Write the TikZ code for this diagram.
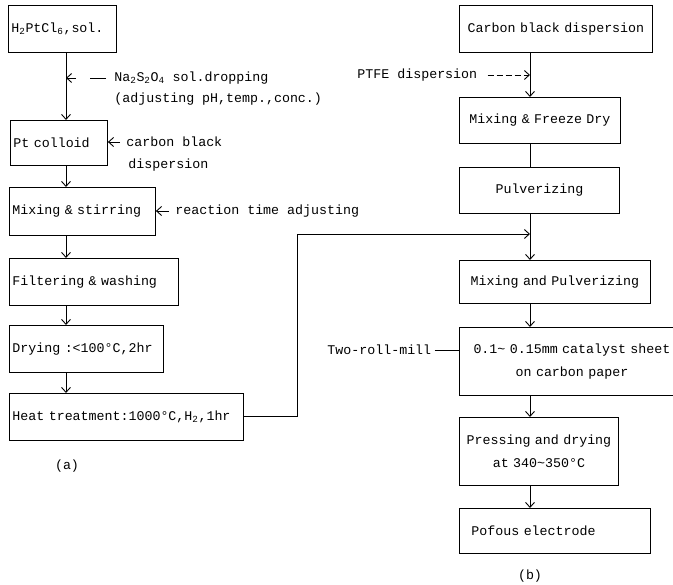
\documentclass[tikz,border=0pt]{standalone}
\usepackage{fontspec}
\setmainfont{Liberation Mono}
\usepackage{tikz}
\usetikzlibrary{calc, arrows.meta}

\tikzset{
  stepbox/.style={draw, anchor=north west, inner xsep=3pt, inner ysep=0pt, align=left},
  sidetext/.style={anchor=west, inner sep=0pt},
  >={Straight Barb[length=5pt,width=9pt]}
}

\begin{document}
\begin{tikzpicture}[x=1pt, y=-1pt, line width=0.9pt, font=\fontsize{13.3}{23}\selectfont]
      \useasboundingbox (0,0) rectangle (673,585);

      \coordinate (axa) at (66, 0);
      \coordinate (axb) at (530, 0);
      \coordinate (bend) at (297, 234);
      \coordinate (join) at (530, 234);

      \node[stepbox, text width=102pt, minimum height=47pt] (h2) at (8,5) {H\textsubscript{2}PtCl\textsubscript{6},sol.};
      \node[stepbox, text width=91pt, minimum height=45pt] (colloid) at (10,120) {Pt colloid};
      \node[stepbox, text width=140pt, minimum height=48pt] (mixstir) at (9,187) {Mixing \& stirring};
      \node[stepbox, text width=163pt, minimum height=47pt] (filter) at (9,258) {Filtering \& washing};
      \node[stepbox, text width=148pt, minimum height=47pt] (dry) at (9,325) {Drying :<100°C,2hr};
      \node[stepbox, text width=228pt, minimum height=47pt] (heat) at (9,393) {Heat treatment:1000°C,H\textsubscript{2},1hr};

      \node[stepbox, align=center, text width=187pt, minimum height=47pt] (cbd) at (459,5) {Carbon black dispersion};
      \node[stepbox, align=center, text width=155pt, minimum height=46pt] (mfd) at (459,97) {Mixing \& Freeze Dry};
      \node[stepbox, align=center, text width=154pt, minimum height=46pt] (pulv) at (459,167) {Pulverizing};
      \node[stepbox, align=center, text width=185pt, minimum height=43pt] (mixpulv) at (459,260) {Mixing and Pulverizing};
      \node[stepbox, align=center, text width=219pt, minimum height=68pt] (sheet) at (459,327) {0.1\textasciitilde{} 0.15mm catalyst sheet\\on carbon paper};
      \node[stepbox, align=center, text width=153pt, minimum height=68pt] (press) at (459,417) {Pressing and drying\\at 340\textasciitilde350°C};
      \node[stepbox, inner xsep=12pt, text width=167pt, minimum height=45pt] (porous) at (459,508) {Pofous electrode};

      \node[sidetext] (na1) at (114,78) {Na\textsubscript{2}S\textsubscript{2}O\textsubscript{4} sol.dropping};
      \node[sidetext] (na2) at (114,99) {(adjusting pH,temp.,conc.)};
      \node[sidetext] (cb1) at (126,142) {carbon black};
      \node[sidetext] (cb2) at (128,165) {dispersion};
      \node[sidetext] (rt) at (175,211) {reaction time adjusting};
      \node[sidetext] (ptfe) at (357,75) {PTFE dispersion};
      \node[sidetext] (roll) at (327,350) {Two-roll-mill};

      \node (capa) at (67,466) {(a)};
      \node (capb) at (530,576) {(b)};

      \foreach \a/\b in {h2/colloid, colloid/mixstir, mixstir/filter, filter/dry, dry/heat} {
          \draw[->] (\a.south -| axa) -- (\b.north -| axa);
      }

      \foreach \a/\b in {cbd/mfd, pulv/mixpulv, mixpulv/sheet, sheet/press, press/porous} {
          \draw[->] (\a.south -| axb) -- (\b.north -| axb);
      }
      \draw (mfd.south -| axb) -- (pulv.north -| axb);

      \draw[->, dash pattern=on 16pt off 14pt, shorten <=8pt] (na1.west) -- (na1.west -| axa);
      \draw[->, shorten <=6pt] (cb1.west) -- (colloid.east |- cb1.west);
      \draw[->, shorten <=6pt] (rt.west) -- (mixstir.east |- rt.west);
      \draw[->, dash pattern=on 6pt off 3pt, shorten <=10pt] (ptfe.east) -- (ptfe.east -| axb);
      \draw[shorten <=3pt] (roll.east) -- (sheet.west |- roll.east);

      \draw[->] (heat.east) -| (bend) -- (join);
    \end{tikzpicture}
\end{document}
